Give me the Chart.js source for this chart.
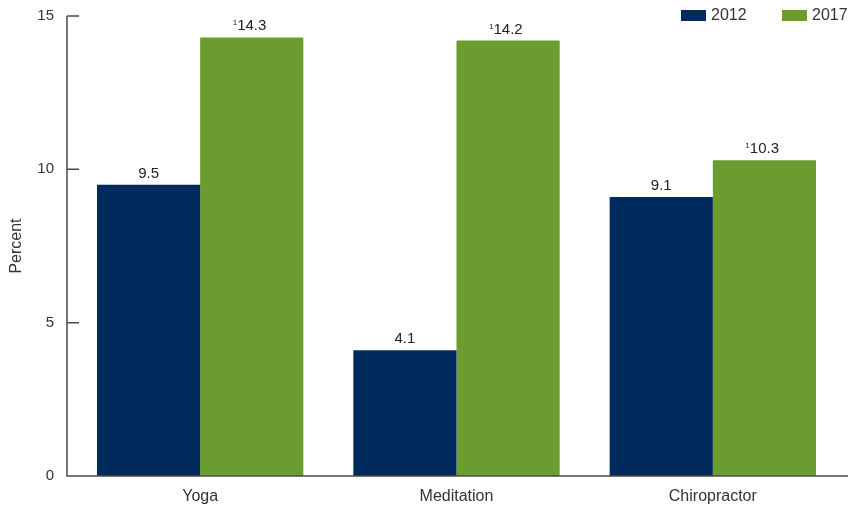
<!DOCTYPE html>
<html>
<head>
<meta charset="utf-8">
<script src="https://cdn.jsdelivr.net/npm/chart.js@4.4.0/dist/chart.umd.min.js"></script>
<style>
  html, body { margin: 0; padding: 0; background: #fff; }
  #wrap { width: 848px; height: 508px; position: relative; }
</style>
</head>
<body>
<div id="wrap"><canvas id="c" width="848" height="508"></canvas></div>
<script>
// data
const categories = ['Yoga', 'Meditation', 'Chiropractor'];
const years = ['2012', '2017'];
const values2012 = [9.5, 4.1, 9.1];
const values2017 = [14.3, 14.2, 10.3];
const notes2017 = ['1', '1', '1'];   // footnote marks on the 2017 values
const yTicks = [0, 5, 10, 15];

const colors = ['#002b5c', '#6b9c2f'];
const axisColor = '#4a4a4a';
const textColor = '#333';
const FONT = 'Liberation Sans, Arial, sans-serif';

// axis lines, inward ticks, value labels, legend
const decor = {
  id: 'decor',
  afterDraw(chart) {
    const ctx = chart.ctx;
    const a = chart.chartArea;
    const y = chart.scales.y;
    const axX = a.left - 5;
    ctx.save();
    ctx.strokeStyle = axisColor;
    ctx.lineWidth = 1.5;
    ctx.beginPath();
    ctx.moveTo(axX, y.getPixelForValue(15));
    ctx.lineTo(axX, a.bottom);
    ctx.lineTo(chart.width, a.bottom);
    yTicks.forEach(t => {
      const py = y.getPixelForValue(t);
      ctx.moveTo(axX, py);
      ctx.lineTo(axX + 12, py);
    });
    ctx.stroke();

    // value labels
    ctx.fillStyle = '#222';
    ctx.textAlign = 'center';
    ctx.textBaseline = 'alphabetic';
    chart.data.datasets.forEach((ds, di) => {
      chart.getDatasetMeta(di).data.forEach((bar, i) => {
        const txt = ds.data[i].toFixed(1);
        ctx.font = '15px ' + FONT;
        const by = bar.y - 7;
        ctx.fillText(txt, bar.x, by);
        if (di === 1 && notes2017[i]) {
          const w = ctx.measureText(txt).width;
          ctx.font = '8px ' + FONT;
          ctx.textAlign = 'right';
          ctx.fillText(notes2017[i], bar.x - w / 2, by - 5);
          ctx.textAlign = 'center';
        }
      });
    });

    // legend
    ctx.font = '16px ' + FONT;
    ctx.textAlign = 'left';
    ctx.textBaseline = 'middle';
    const lx = [681, 782];
    years.forEach((yr, i) => {
      ctx.fillStyle = colors[i];
      ctx.fillRect(lx[i], 10, 25, 11);
      ctx.fillStyle = textColor;
      ctx.fillText(yr, lx[i] + 30, 16);
    });
    ctx.restore();
  }
};

new Chart(document.getElementById('c').getContext('2d'), {
  type: 'bar',
  data: {
    labels: categories,
    datasets: [
      { label: years[0], data: values2012, backgroundColor: colors[0] },
      { label: years[1], data: values2017, backgroundColor: colors[1] }
    ]
  },
  options: {
    responsive: false,
    animation: false,
    layout: { padding: { top: 16, right: 7, left: 0, bottom: 0 } },
    datasets: { bar: { categoryPercentage: 0.805, barPercentage: 1 } },
    plugins: { legend: { display: false }, tooltip: { enabled: false } },
    scales: {
      x: {
        grid: { display: false, drawTicks: false },
        border: { display: false },
        ticks: { color: textColor, font: { family: FONT, size: 16 }, padding: 11 },
        afterFit: s => { s.height = 32; s.paddingLeft = 0; s.paddingRight = 0; }
      },
      y: {
        min: 0, max: 15,
        afterBuildTicks: s => { s.ticks = yTicks.map(v => ({ value: v })); },
        grid: { display: false, drawTicks: false },
        border: { display: false },
        ticks: { color: textColor, font: { family: FONT, size: 15 }, padding: 18 },
        title: { display: true, text: 'Percent', color: textColor, font: { family: FONT, size: 16 }, padding: { top: 7, bottom: 0 } },
        afterFit: s => { s.width = 72; s.paddingTop = 0; s.paddingBottom = 0; }
      }
    }
  },
  plugins: [decor]
});
</script>
</body>
</html>
